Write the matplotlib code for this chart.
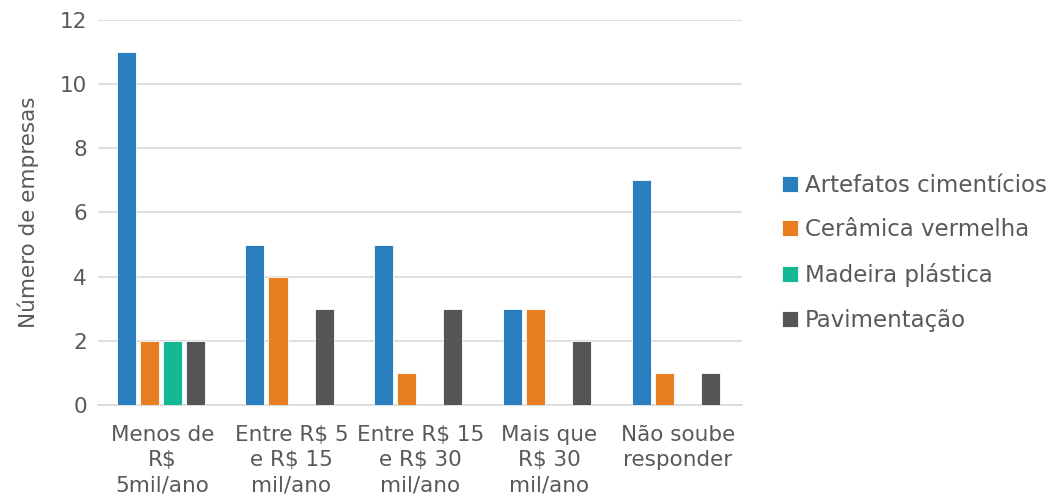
import numpy as np
import matplotlib

matplotlib.use("Agg")
import matplotlib.pyplot as plt

categories = ["Menos de\nR$\n5mil/ano", "Entre R$ 5\ne R$ 15\nmil/ano", "Entre R$ 15\ne R$ 30\nmil/ano",
              "Mais que\nR$ 30\nmil/ano", "Não soube\nresponder"]
series = ["Artefatos cimentícios", "Cerâmica vermelha", "Madeira plástica", "Pavimentação"]
artefatos = [11, 5, 5, 3, 7]
ceramica = [2, 4, 1, 3, 1]
madeira = [2, 0, 0, 0, 0]
pavimentacao = [2, 3, 3, 2, 1]
colors = ["#2A7EBD", "#E87D22", "#14B894", "#555558"]

TXT = "#595959"
plt.rcParams["font.family"] = ["DejaVu Sans"]

fig = plt.figure(figsize=(10.56, 4.94), dpi=100)
ax = fig.add_axes([0.093, 0.180, 0.610, 0.780])

x = np.arange(len(categories))
step, width = 0.179, 0.148
for i, (name, vals, c) in enumerate(zip(series, [artefatos, ceramica, madeira, pavimentacao], colors)):
    ax.bar(x + (i - 1.5) * step - 0.015, vals, width, color=c, label=name,
           edgecolor="#FFFFFF", linewidth=0.6, zorder=3)

ax.set_xlim(-0.5, len(categories) - 0.5)
ax.set_ylim(0, 12)
ax.set_yticks(range(0, 13, 2))
ax.yaxis.grid(True, color="#D9D9D9", linewidth=1.2, zorder=0)
for s in ("top", "right", "left"):
    ax.spines[s].set_visible(False)
ax.spines["bottom"].set_color("#D9D9D9")
ax.spines["bottom"].set_linewidth(1.2)
ax.tick_params(length=0, labelsize=15.5, colors=TXT)
ax.tick_params(axis="y", pad=8)
ax.tick_params(axis="x", pad=14)
ax.set_xticks(x)
ax.set_xticklabels(categories, linespacing=1.35)
ax.set_ylabel("Número de empresas", fontsize=15.5, color=TXT, labelpad=15)

leg = ax.legend(loc="center left", bbox_to_anchor=(1.03, 0.395), frameon=False, fontsize=16.5,
                handlelength=0.7, handleheight=0.7, handletextpad=0.3, labelspacing=0.95)
for t in leg.get_texts():
    t.set_color(TXT)

fig.savefig("out.png", dpi=100)
